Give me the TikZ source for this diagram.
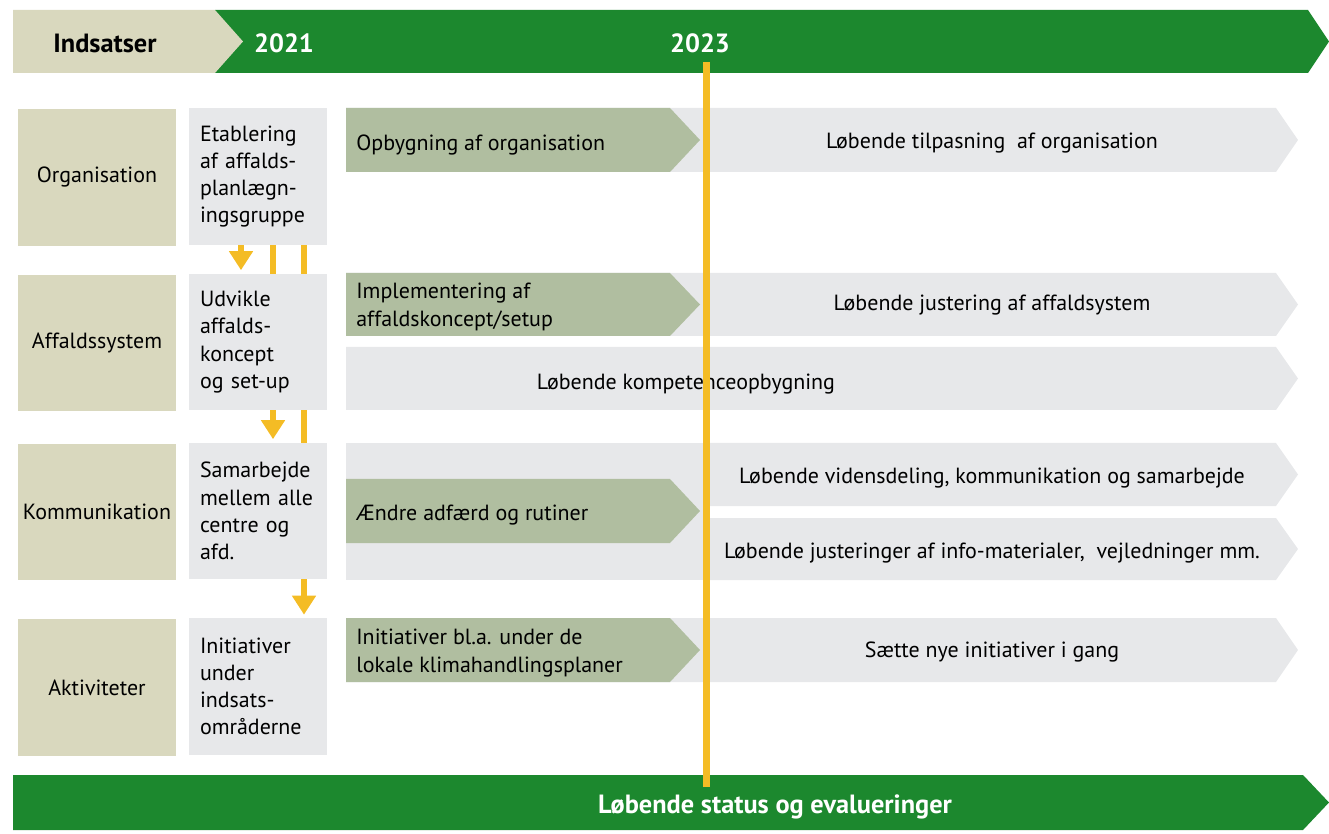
\documentclass[tikz,border=0pt]{standalone}
\usepackage{fontspec}
\setmainfont{PT Sans}
\usetikzlibrary{arrows.meta,backgrounds}
\definecolor{hdgreen}{RGB}{28,136,46}
\definecolor{catbeige}{RGB}{217,216,190}
\definecolor{boxgray}{RGB}{231,232,234}
\definecolor{sage}{RGB}{176,190,160}
\definecolor{ochre}{RGB}{244,188,37}
% arrow band: x1, y1, x2, y2, tip length, colour
\newcommand{\band}[6]{\fill[#6] (#1,#2) -- ({#3-#5},#2) -- (#3,{(#2+#4)/2}) -- ({#3-#5},#4) -- (#1,#4) -- cycle;}
\begin{document}
\begin{tikzpicture}[x=0.02cm,y=-0.02cm]
	\tikzset{cat/.style={fill=catbeige, minimum width=3.16cm, minimum height=2.74cm, inner sep=0pt, align=center},
		task/.style={fill=boxgray, text width=2.32cm, inner xsep=0.22cm, minimum height=2.74cm, align=left},
		lbl/.style={inner sep=0pt, align=left},
		hdr/.style={inner sep=0pt, font=\fontsize{15}{17}\selectfont\bfseries, text=white},
		flow/.style={ochre, line width=0.12cm, -{Triangle[width=0.46cm,length=0.38cm]}, shorten >=0.06cm},
		milestone/.style={ochre, line width=0.14cm},
		every node/.append style={font=\fontsize{12.5}{15.5}\selectfont}};
	\useasboundingbox (0,0) rectangle (1329,834);
	% header
	\band{215}{10}{1329}{73}{21}{hdgreen}
	\band{13}{10}{243}{73}{28}{catbeige}
	\node[hdr,text=black] (Indsatser) at (105,43) {Indsatser};
	\node[hdr] (y2021) at (284,43) {2021};
	\node[hdr] (y2023) at (700,43) {2023};
	% categories
	\node[cat] (Org)  at ( 97,177.5) {Organisation};
	\node[cat] (Aff)  at ( 97,343  ) {Affaldssystem};
	\node[cat] (Komm) at ( 97,512  ) {Kommunikation};
	\node[cat] (Akt)  at ( 97,687.5) {Aktiviteter};
	% tasks
	\node[task] (Etab) at (258,176.5) {Etablering\\af affalds-\\planlægn-\\ingsgruppe};
	\node[task] (Udv)  at (258,342  ) {Udvikle\\affalds-\\koncept\\og set-up};
	\node[task] (Sam)  at (258,511  ) {Samarbejde\\mellem alle\\centre og\\afd.};
	\node[task] (Init) at (258,686.5) {Initiativer\\under\\indsats-\\områderne};
	% flows between the tasks
	\coordinate (f1) at (241,0);
	\coordinate (f2) at (273,0);
	\coordinate (f3) at (304,0);
	\begin{pgfonlayer}{background}
		\draw[flow] (Etab.south -| f1) -- (Udv.north  -| f1);
		\draw[flow] (Etab.south -| f2) -- (Sam.north  -| f2);
		\draw[flow] (Etab.south -| f3) -- (Init.north -| f3);
	\end{pgfonlayer}
	% timeline bands
	\band{346}{108}{1298}{172}{22}{boxgray}
	\band{346}{108}{700}{172}{30}{sage}
	\band{346}{273}{1298}{336}{22}{boxgray}
	\band{346}{273}{700}{336}{30}{sage}
	\band{346}{347}{1298}{410}{22}{boxgray}
	\fill[boxgray] (346,443) rectangle (706,580);
	\band{706}{443}{1298}{506}{22}{boxgray}
	\band{706}{518}{1298}{580}{22}{boxgray}
	\band{346}{479}{700}{543}{30}{sage}
	\band{346}{618}{1298}{682}{22}{boxgray}
	\band{346}{618}{700}{682}{30}{sage}
	\node[lbl,anchor=west] (Opb)  at (356,145) {Opbygning af organisation};
	\node[lbl,anchor=west] (Impl) at (356,307) {Implementering af\\affaldskoncept/setup};
	\node[lbl,anchor=west] (Aend) at (356,515) {Ændre adfærd og rutiner};
	\node[lbl,anchor=west] (Lok)  at (356,653) {Initiativer bl.a. under de\\lokale klimahandlingsplaner};
	\node[lbl] (Tilp) at (992,143) {Løbende tilpasning\ \ af organisation};
	\node[lbl] (Just) at (992,305) {Løbende justering af affaldsystem};
	\node[lbl] (Komp) at (686,384) {Løbende kompetenceopbygning};
	\node[lbl] (Vid)  at (992,478) {Løbende vidensdeling, kommunikation og samarbejde};
	\node[lbl] (Info) at (992,553) {Løbende justeringer af info-materialer,\ \ vejledninger mm.};
	\node[lbl] (Nye)  at (992,652) {Sætte nye initiativer i gang};
	% bottom bar
	\band{13}{775}{1329}{830}{26}{hdgreen}
	\node[hdr] (Status) at (775,807) {Løbende status og evalueringer};
	% 2023 marker
	\coordinate (m23top) at (706,62);
	\coordinate (m23bot) at (706,787);
	\draw[milestone] (m23top) -- (m23bot);
\end{tikzpicture}
\end{document}
